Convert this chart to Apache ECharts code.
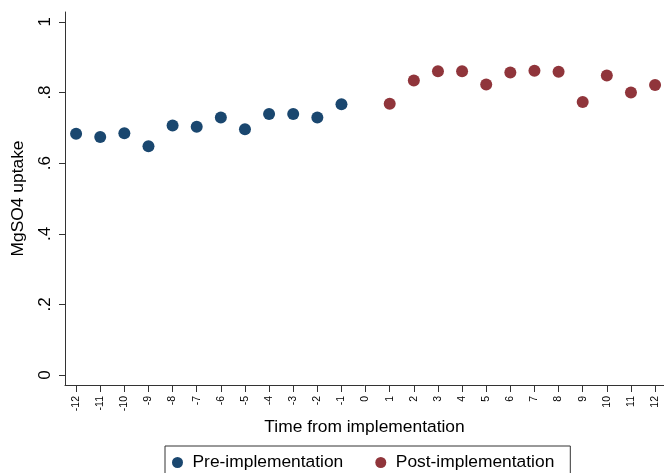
<!DOCTYPE html>
<html>
<head>
<meta charset="utf-8">
<script src="https://cdn.jsdelivr.net/npm/echarts@6/dist/echarts.min.js"></script>
<style>html,body{margin:0;padding:0;background:#fff}#c{width:664px;height:473px}</style>
</head>
<body>
<div id="c"></div>
<script>
const preTimes = [-12,-11,-10,-9,-8,-7,-6,-5,-4,-3,-2,-1];
const preValues = [0.683,0.674,0.685,0.648,0.707,0.703,0.729,0.696,0.739,0.739,0.729,0.767];
const postTimes = [1,2,3,4,5,6,7,8,9,10,11,12];
const postValues = [0.768,0.834,0.860,0.860,0.823,0.857,0.862,0.859,0.773,0.848,0.800,0.821];
const xTicks = [-12,-11,-10,-9,-8,-7,-6,-5,-4,-3,-2,-1,0,1,2,3,4,5,6,7,8,9,10,11,12];
const yTicks = [0,0.2,0.4,0.6,0.8,1];
const seriesNames = ['Pre-implementation','Post-implementation'];
const xTitle = 'Time from implementation';
const yTitle = 'MgSO4 uptake';

const FONT = 'Liberation Sans, Arial, Helvetica, sans-serif';
const chart = echarts.init(document.getElementById('c'), null, {renderer:'canvas'});
const fmtY = v => { if (v === 0) return '0'; if (v === 1) return '1'; return String(+v.toFixed(1)).replace(/^0/, ''); };

chart.setOption({
  animation:false,
  backgroundColor:'#fff',
  textStyle:{fontFamily:FONT},
  grid:{left:65, top:12, width:599, height:373, containLabel:false},
  legend:{
    data:seriesNames,
    left:165, top:446,
    orient:'horizontal',
    icon:'circle',
    itemWidth:20, itemHeight:11,
    itemGap:32,
    padding:[8,16,12,7],
    borderColor:'#333', borderWidth:1,
    textStyle:{fontSize:17.4, color:'#000', fontFamily:FONT}
  },
  xAxis:{
    type:'value', min:-12.46, max:12.37,
    name:xTitle, nameLocation:'middle', nameGap:33,
    nameTextStyle:{fontSize:17.4, color:'#000', fontFamily:FONT},
    axisLine:{show:true, onZero:false, lineStyle:{color:'#333', width:1}},
    axisTick:{show:true, length:7, customValues:xTicks, lineStyle:{color:'#333'}},
    axisLabel:{show:true, customValues:xTicks, rotate:90, fontSize:10.5, margin:11, color:'#000', formatter:v=>String(v)},
    splitLine:{show:false}
  },
  yAxis:{
    type:'value', min:-0.028, max:1.028,
    name:yTitle, nameLocation:'middle', nameGap:38,
    nameTextStyle:{fontSize:17.4, color:'#000', fontFamily:FONT},
    axisLine:{show:true, onZero:false, lineStyle:{color:'#333', width:1}},
    axisTick:{show:true, length:6, customValues:yTicks, lineStyle:{color:'#333'}},
    axisLabel:{show:true, customValues:yTicks, rotate:90, fontSize:17, margin:11, color:'#000', formatter:fmtY},
    splitLine:{show:false}
  },
  series:[
    {name:seriesNames[0], type:'scatter', symbol:'circle', symbolSize:12,
     itemStyle:{color:'#1a476f', opacity:1},
     data:preTimes.map((t,i)=>[t,preValues[i]])},
    {name:seriesNames[1], type:'scatter', symbol:'circle', symbolSize:12,
     itemStyle:{color:'#90353b', opacity:1},
     data:postTimes.map((t,i)=>[t,postValues[i]])}
  ]
});
</script>
</body>
</html>
